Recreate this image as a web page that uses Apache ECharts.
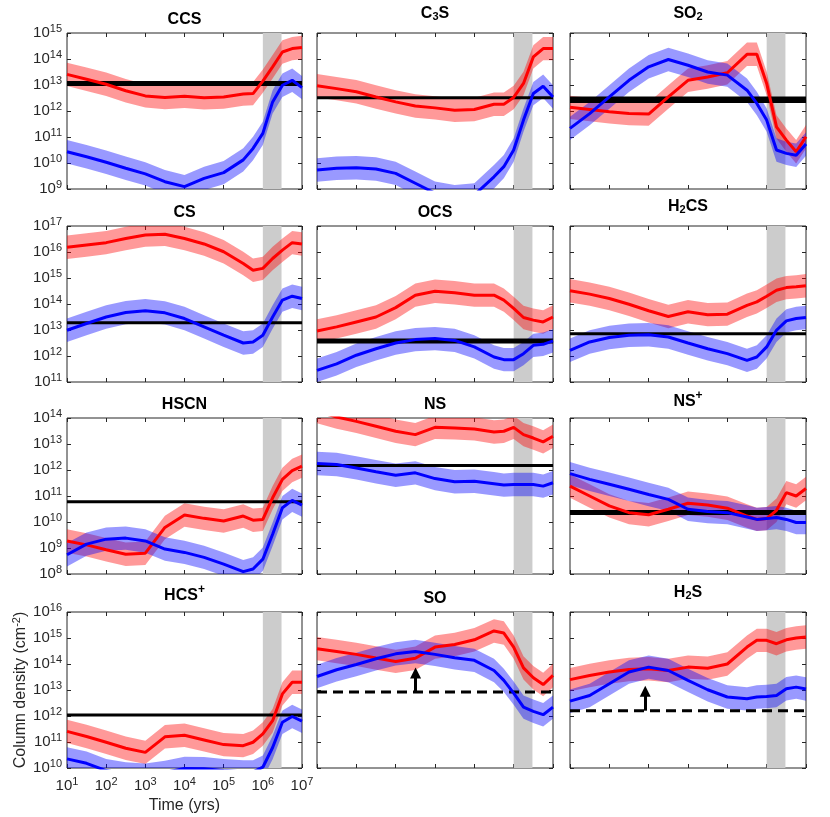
<!DOCTYPE html>
<html>
<head>
<meta charset="utf-8">
<script src="https://cdn.jsdelivr.net/npm/echarts@6.0.0/dist/echarts.min.js"></script>
<style>
  html, body { margin: 0; padding: 0; background: #fff; }
  #chart { width: 830px; height: 817px; }
</style>
</head>
<body>
<div id="chart"></div>
<script>
// model time grid (yrs)
const times = [10, 31.6, 100, 316, 1000, 3162, 1e4, 3.162e4, 1e5, 3.162e5, 5.623e5, 1e6, 1.778e6, 3.162e6, 5.623e6, 1e7];

// log10 column densities, red and blue models
const ccsRed   = [13.41, 13.22, 13.03, 12.78, 12.58, 12.52, 12.57, 12.51, 12.54, 12.65, 12.67, 13.15, 13.70, 14.27, 14.40, 14.44];
const ccsBlue  = [10.43, 10.24, 10.03, 9.80, 9.58, 9.28, 9.09, 9.41, 9.63, 10.12, 10.56, 11.14, 12.35, 12.99, 13.18, 12.90];
const c3sRed   = [12.97, 12.86, 12.74, 12.54, 12.35, 12.19, 12.12, 12.03, 12.06, 12.26, 12.26, 12.52, 13.06, 14.08, 14.40, 14.40];
const c3sBlue  = [9.73, 9.80, 9.82, 9.77, 9.60, 9.22, 8.84, 8.70, 8.77, 9.47, 9.86, 10.50, 11.65, 12.67, 12.95, 12.54];
const so2Red   = [12.14, 12.06, 11.97, 11.90, 11.88, 12.54, 13.18, 13.31, 13.47, 14.18, 14.18, 13.06, 11.39, 10.88, 10.43, 11.01];
const so2Blue  = [11.33, 11.90, 12.54, 13.18, 13.70, 13.98, 13.76, 13.50, 13.38, 12.80, 12.29, 11.65, 10.50, 10.37, 10.30, 10.73];
const csRed    = [16.18, 16.27, 16.36, 16.52, 16.65, 16.68, 16.52, 16.31, 16.01, 15.56, 15.30, 15.37, 15.75, 16.07, 16.36, 16.31];
const csBlue   = [12.99, 13.25, 13.50, 13.67, 13.74, 13.66, 13.44, 13.12, 12.80, 12.50, 12.54, 12.80, 13.50, 14.15, 14.30, 14.21];
const ocsRed   = [12.96, 13.12, 13.31, 13.50, 13.86, 14.34, 14.49, 14.43, 14.34, 14.34, 14.15, 13.83, 13.48, 13.38, 13.31, 13.50];
const ocsBlue  = [11.45, 11.70, 12.03, 12.28, 12.50, 12.63, 12.67, 12.60, 12.35, 11.96, 11.86, 11.86, 12.09, 12.41, 12.45, 12.58];
const h2csRed  = [14.51, 14.38, 14.21, 13.99, 13.74, 13.52, 13.70, 13.59, 13.61, 13.95, 14.08, 14.30, 14.53, 14.63, 14.66, 14.70];
const h2csBlue = [12.22, 12.54, 12.71, 12.80, 12.82, 12.73, 12.50, 12.28, 12.09, 11.83, 11.96, 12.35, 12.99, 13.35, 13.44, 13.48];
const hscnRed  = [9.27, 9.12, 8.93, 8.76, 8.80, 9.79, 10.27, 10.14, 10.04, 10.23, 10.07, 10.10, 10.93, 11.64, 11.98, 12.15];
const hscnBlue = [8.74, 9.15, 9.34, 9.38, 9.27, 8.96, 8.83, 8.64, 8.38, 8.09, 8.19, 8.57, 9.53, 10.55, 10.83, 10.65];
const nsRed    = [14.25, 14.04, 13.87, 13.68, 13.49, 13.36, 13.64, 13.62, 13.58, 13.46, 13.49, 13.64, 13.36, 13.23, 13.08, 13.30];
const nsBlue   = [12.25, 12.21, 12.08, 11.93, 11.80, 11.89, 11.67, 11.55, 11.57, 11.47, 11.42, 11.44, 11.44, 11.44, 11.38, 11.51];
const nspRed   = [11.38, 11.00, 10.62, 10.36, 10.28, 10.49, 10.72, 10.65, 10.53, 10.23, 10.10, 10.13, 10.45, 11.13, 11.00, 11.29];
const nspBlue  = [11.86, 11.64, 11.45, 11.26, 11.06, 10.87, 10.49, 10.40, 10.36, 10.19, 10.10, 10.13, 10.17, 10.10, 9.98, 9.98];
const hcspRed  = [11.41, 11.21, 10.99, 10.76, 10.60, 11.20, 11.26, 11.08, 10.90, 10.86, 10.99, 11.31, 11.82, 12.85, 13.30, 13.30];
const hcspBlue = [10.35, 10.18, 9.90, 9.77, 9.72, 9.83, 9.98, 9.97, 9.90, 9.85, 9.85, 10.03, 10.79, 11.76, 11.98, 11.80];
const soRed    = [14.59, 14.48, 14.37, 14.23, 14.10, 14.22, 14.65, 14.75, 14.93, 15.27, 15.19, 14.65, 13.85, 13.47, 13.21, 13.56];
const soBlue   = [13.52, 13.78, 13.98, 14.20, 14.39, 14.48, 14.37, 14.24, 14.14, 13.75, 13.37, 12.88, 12.34, 12.18, 12.05, 12.34];
const h2sRed   = [13.40, 13.56, 13.69, 13.79, 13.82, 13.75, 13.88, 13.84, 14.00, 14.65, 14.91, 14.91, 14.78, 14.93, 15.00, 15.04];
const h2sBlue  = [12.57, 12.79, 13.24, 13.69, 13.88, 13.75, 13.37, 13.01, 12.73, 12.66, 12.73, 12.75, 12.79, 13.05, 13.11, 13.04];

// observed column densities (cm^-2); SO and H2S are lower limits
const observed = [1.15e13, 3.2e12, 2.7e12, 1.9e13, 3.8e12, 7.2e12, 6e10, 1.5e12, 2.3e10, 1.1e12, 8.3e12, 1.6e12];
const lowerLimit = [false, false, false, false, false, false, false, false, false, false, true, true];
const arrowTime = [null, null, null, null, null, null, null, null, null, null, 3200, 820];
const arrowTip = [null, null, null, null, null, null, null, null, null, null, 4.5e13, 9e12];

// shaded time window (yrs)
const shadeWindow = [1e6, 3e6];
// model uncertainty, dex either side
const bandHalfWidth = 0.45;

const titles = ['{t|CCS}', '{T|C}{d|3}{T|S}', '{T|SO}{d|2}', '{t|CS}', '{t|OCS}', '{T|H}{d|2}{T|CS}',
                '{t|HSCN}', '{t|NS}', '{t|NS}{u|+}', '{t|HCS}{u|+}', '{t|SO}', '{T|H}{d|2}{T|S}'];
const redModels = [ccsRed, c3sRed, so2Red, csRed, ocsRed, h2csRed, hscnRed, nsRed, nspRed, hcspRed, soRed, h2sRed];
const blueModels = [ccsBlue, c3sBlue, so2Blue, csBlue, ocsBlue, h2csBlue, hscnBlue, nsBlue, nspBlue, hcspBlue, soBlue, h2sBlue];
// y range per row, as decades
const rowDecades = [[9, 15], [11, 17], [8, 14], [10, 16]];

// layout
const colLeft = [67, 317, 570];
const colWidth = [235, 236, 236];
const rowTop = [33, 226, 418, 612];
const rowHeight = 156;
const obsWidth = [5, 3, 6.5, 3, 5, 3, 3, 3, 5, 3, 3, 3];

const ink = '#262626';
const font = 'Liberation Sans, Arial, Helvetica, sans-serif';

function powLabel(v) {
  return '{b|10}{s|' + Math.round(Math.log10(v)) + '}';
}
const powRich = {
  b: { fontSize: 15, color: ink, fontFamily: font },
  s: { fontSize: 11, color: ink, fontFamily: font, padding: [0, 0, 9, 0] }
};

const chart = echarts.init(document.getElementById('chart'));
const option = {
  backgroundColor: '#fff',
  animation: false,
  textStyle: { fontFamily: font },
  grid: [], xAxis: [], yAxis: [], series: [], graphic: []
};

for (let i = 0; i < 12; i++) {
  const row = Math.floor(i / 3), col = i % 3;
  const [lo, hi] = rowDecades[row];
  const yMin = Math.pow(10, lo), yMax = Math.pow(10, hi);
  const isCorner = i === 9;

  option.grid.push({
    left: colLeft[col], top: rowTop[row], width: colWidth[col], height: rowHeight,
    show: true, borderColor: ink, borderWidth: 1, backgroundColor: 'transparent', containLabel: false
  });

  const tick = { show: true, inside: true, length: 4, lineStyle: { color: ink, width: 1 } };
  option.xAxis.push({
    gridIndex: i, type: 'log', logBase: 10, min: 10, max: 1e7, splitNumber: 6,
    axisLine: { show: false }, axisTick: tick, splitLine: { show: false },
    axisLabel: { show: isCorner, formatter: powLabel, rich: powRich, margin: 8 },
    name: isCorner ? 'Time (yrs)' : '', nameLocation: 'middle', nameGap: 30,
    nameTextStyle: { fontSize: 16, color: ink, fontFamily: font }
  });
  option.xAxis.push({
    gridIndex: i, type: 'log', logBase: 10, min: 10, max: 1e7, splitNumber: 6, position: 'top',
    axisLine: { show: false }, axisTick: tick, splitLine: { show: false }, axisLabel: { show: false }
  });
  option.yAxis.push({
    gridIndex: i, type: 'log', logBase: 10, min: yMin, max: yMax, splitNumber: 6,
    axisLine: { show: false }, axisTick: tick, splitLine: { show: false },
    axisLabel: { show: col === 0, formatter: powLabel, rich: powRich, margin: 5 },
    name: isCorner ? '{n|Column density (cm}{s|-2}{n|)}' : '', nameLocation: 'middle', nameGap: 36,
    nameTextStyle: {
      rich: {
        n: { fontSize: 16, color: ink, fontFamily: font },
        s: { fontSize: 11, color: ink, fontFamily: font, padding: [0, 0, 9, 0] }
      }
    }
  });
  option.yAxis.push({
    gridIndex: i, type: 'log', logBase: 10, min: yMin, max: yMax, splitNumber: 6, position: 'right',
    axisLine: { show: false }, axisTick: tick, splitLine: { show: false }, axisLabel: { show: false }
  });

  const ax = { xAxisIndex: 2 * i, yAxisIndex: 2 * i };
  const mid = Math.pow(10, (lo + hi) / 2);

  // shaded window
  option.series.push(Object.assign({
    type: 'custom', silent: true, data: [[1000, mid]],
    renderItem: function (params, api) {
      const p0 = api.coord([shadeWindow[0], yMax]);
      const p1 = api.coord([shadeWindow[1], yMin]);
      return { type: 'rect', shape: { x: p0[0], y: p0[1], width: p1[0] - p0[0], height: p1[1] - p0[1] },
               style: { fill: '#cccccc' } };
    }
  }, ax));

  // observed value
  const obsSeries = Object.assign({
    type: 'line', silent: true, showSymbol: false, symbol: 'none',
    data: [[10, observed[i]], [1e7, observed[i]]],
    lineStyle: { color: '#000', width: obsWidth[i], type: lowerLimit[i] ? [10, 6] : 'solid' }
  }, ax);
  if (arrowTime[i]) {
    obsSeries.markLine = {
      silent: true, symbol: ['none', 'triangle'], symbolSize: [11, 11],
      lineStyle: { color: '#000', width: 3, type: 'solid' },
      label: { show: false },
      data: [[{ coord: [arrowTime[i], observed[i]] }, { coord: [arrowTime[i], arrowTip[i]] }]]
    };
  }
  option.series.push(obsSeries);

  // model curves
  [[redModels[i], '#ff0000'], [blueModels[i], '#0000ff']].forEach(function (m) {
    option.series.push(Object.assign({
      type: 'line', silent: true, showSymbol: false, symbol: 'none',
      data: times.map(function (t, k) { return [t, Math.pow(10, m[0][k])]; }),
      lineStyle: { color: m[1], width: 3 }
    }, ax));
  });

  // uncertainty bands
  [[redModels[i], 'rgba(255,0,0,0.4)'], [blueModels[i], 'rgba(0,0,255,0.4)']].forEach(function (m) {
    const vals = m[0];
    option.series.push(Object.assign({
      type: 'custom', silent: true, data: [[1000, mid]],
      renderItem: function (params, api) {
        const up = [], dn = [];
        for (let k = 0; k < times.length; k++) {
          up.push(api.coord([times[k], Math.pow(10, vals[k] + bandHalfWidth)]));
          dn.push(api.coord([times[k], Math.pow(10, vals[k] - bandHalfWidth)]));
        }
        const cs = params.coordSys;
        return {
          type: 'polygon', shape: { points: up.concat(dn.reverse()) }, style: { fill: m[1] },
          clipPath: { type: 'rect', shape: { x: cs.x, y: cs.y, width: cs.width, height: cs.height } }
        };
      }
    }, ax));
  });

  // panel title
  option.graphic.push({
    type: 'text', silent: true,
    x: colLeft[col] + colWidth[col] / 2, y: rowTop[row] - 5,
    style: {
      text: titles[i], textAlign: 'center', textVerticalAlign: 'bottom',
      rich: {
        t: { fontSize: 16, fontWeight: 'bold', fill: '#000', fontFamily: font },
        T: { fontSize: 16, fontWeight: 'bold', fill: '#000', fontFamily: font, padding: [0, 0, 6, 0] },
        d: { fontSize: 11, fontWeight: 'bold', fill: '#000', fontFamily: font },
        u: { fontSize: 12, fontWeight: 'bold', fill: '#000', fontFamily: font, padding: [0, 0, 11, 0] }
      }
    }
  });
}

chart.setOption(option);
</script>
</body>
</html>
